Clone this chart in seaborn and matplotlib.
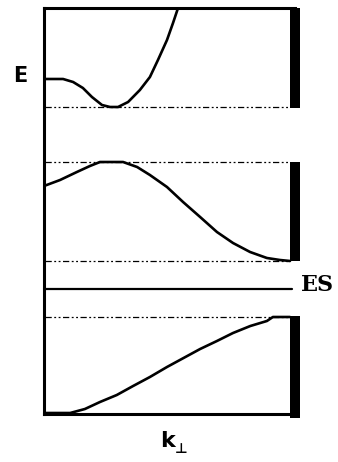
import matplotlib
matplotlib.use("Agg")
import matplotlib.pyplot as plt
import seaborn as sns
import pandas as pd

# ---- data (k in units of zone width, E in arbitrary units) ----
band1_k = [0.0, 0.076, 0.116, 0.155, 0.191, 0.231, 0.263, 0.295, 0.335, 0.382, 0.422, 0.454, 0.490, 0.514, 0.534]
band1_E = [335, 335, 332, 326, 317, 309, 307, 307, 312, 324, 337, 354, 374, 391, 406]

band2_k = [0.0, 0.064, 0.131, 0.183, 0.223, 0.315, 0.371, 0.422, 0.490, 0.554, 0.622, 0.689, 0.753, 0.821, 0.888, 0.940, 0.980]
band2_E = [228, 234, 242, 248, 252, 252, 247, 239, 227, 212, 197, 182, 171, 162, 156, 154, 153]

band3_k = [0.0, 0.104, 0.163, 0.223, 0.290, 0.355, 0.422, 0.490, 0.556, 0.622, 0.689, 0.753, 0.822, 0.888, 0.912, 0.980]
band3_E = [1, 1, 5, 12, 19, 28, 37, 47, 56, 65, 73, 81, 88, 93, 97, 97]

band_edges = [307, 252, 153, 97]          # dash-dot reference levels
band_ranges = [(306, 406), (153, 252), (-4, 98)]  # thick bars on the right
es_level = 125
E_max = 406

sns.set_style("white")
fig = plt.figure(figsize=(3.38, 4.62), dpi=100)
ax = fig.add_axes([44 / 338, 48 / 462, 251 / 338, 406 / 462])

for kk, ee in [(band1_k, band1_E), (band2_k, band2_E), (band3_k, band3_E)]:
    df = pd.DataFrame({"k": kk, "E": ee})
    sns.lineplot(data=df, x="k", y="E", color="black", linewidth=1.9, ax=ax,
                 sort=False, estimator=None)

for lvl in band_edges:
    ax.plot([0.005, 0.98], [lvl, lvl], color="black", linewidth=0.9,
            linestyle=(0, (5, 2, 1.5, 2, 1.5, 2)))

ax.plot([0, 0.99], [es_level, es_level], color="black", linewidth=1.6,
        clip_on=False)

for lo, hi in band_ranges:
    ax.plot([1.0, 1.0], [lo, hi], color="black", linewidth=7.2,
            solid_capstyle="butt", clip_on=False)

ax.set_xlim(0, 1)
ax.set_ylim(0, E_max)
ax.set_xticks([])
ax.set_yticks([])
ax.set_xlabel("")
ax.set_ylabel("")
for side in ["left", "top", "bottom"]:
    ax.spines[side].set_visible(True)
    ax.spines[side].set_color("black")
    ax.spines[side].set_linewidth(2.2)
ax.spines["right"].set_visible(False)
ax.spines["top"].set_bounds(0, 1.0)

fig.text(20 / 338, 1 - 76 / 462, "E", ha="center", va="center", color="black",
         fontsize=15, fontweight="bold", family="DejaVu Sans")
fig.text(318 / 338, 1 - 285 / 462, "ES", ha="center", va="center", color="black",
         fontsize=16, fontweight="bold", family="DejaVu Serif")
fig.text(167 / 338, 1 - 441 / 462, "k", ha="center", va="center", color="black",
         fontsize=16, fontweight="bold", family="DejaVu Sans")
fig.text(181 / 338, 1 - 449 / 462, "\u22a5", ha="center", va="center", color="black",
         fontsize=10, fontweight="bold", family="DejaVu Sans")

fig.savefig("out.png", dpi=100)
